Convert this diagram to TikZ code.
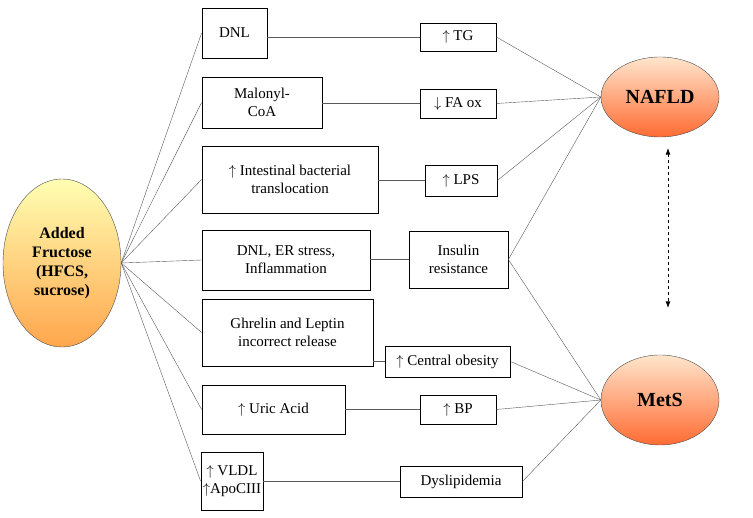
\documentclass[tikz,border=0pt]{standalone}
\usepackage{fontspec}
\setmainfont{Liberation Serif}
\usetikzlibrary{positioning,arrows.meta,shapes.geometric}
\tikzset{
  box/.style={draw, thick, align=center, inner sep=2pt, font=\fontsize{15}{18}\selectfont},
  link/.style={draw=gray!70!black, thin},
  blob/.style={draw=gray!60!black, ellipse, font=\bfseries\fontsize{20}{22}\selectfont},
}
\begin{document}
\begin{tikzpicture}[x=1pt,y=-1pt]
  \useasboundingbox (0,0) rectangle (753,518);
  % Fructosa y enfermedades
  \node[blob, minimum width=118, minimum height=168, align=center, top color=yellow!30, bottom color=orange!70, font=\bfseries\fontsize{16}{19}\selectfont] (fru) at (62,263) {Added\\Fructose\\(HFCS,\\sucrose)};
  \node[blob, minimum width=118, minimum height=80, top color=orange!20!white, bottom color=red!45!orange!80] (nafld) at (660,97) {NAFLD};
  \node[blob, minimum width=118, minimum height=90, top color=orange!20!white, bottom color=red!45!orange!80] (mets) at (660,400) {MetS};

  % Primera columna
  \node[box, minimum width=65, minimum height=50] (dnl) at (234.5,33) {DNL};
  \node[box, minimum width=120, minimum height=51] (mal) at (262,102.5) {Malonyl-\\CoA};
  \node[box, minimum width=176, minimum height=67] (int) at (290,179.5) {$\uparrow$ Intestinal bacterial\\translocation};
  \node[box, minimum width=168, minimum height=60] (er) at (286,260) {DNL, ER stress,\\Inflammation};
  \node[box, minimum width=171, minimum height=67] (ghr) at (287.5,332.5) {Ghrelin and Leptin\\incorrect release};
  \node[box, minimum width=143, minimum height=49] (uric) at (273.5,409.5) {$\uparrow$ Uric Acid};
  \node[box, minimum width=60, minimum height=58] (vldl) at (232,481) {$\uparrow$ VLDL\\$\uparrow$ApoCIII};

  % Segunda columna
  \node[box, minimum width=76, minimum height=28] (tg) at (458,37) {$\uparrow$ TG};
  \node[box, minimum width=76, minimum height=29] (fa) at (458,103.5) {$\downarrow$ FA ox};
  \node[box, minimum width=72, minimum height=31] (lps) at (461,180.5) {$\uparrow$ LPS};
  \node[box, minimum width=99, minimum height=57] (ir) at (458.5,259.5) {Insulin\\resistance};
  \node[box, minimum width=125, minimum height=31] (ob) at (447.5,361.5) {$\uparrow$ Central obesity};
  \node[box, minimum width=76, minimum height=29] (bp) at (458,409.5) {$\uparrow$ BP};
  \node[box, minimum width=122, minimum height=31] (dys) at (461,481.5) {Dyslipidemia};

  % Conexiones
  \foreach \b in {dnl,mal,int,er,ghr,uric,vldl}
    \draw[link] (fru.east) -- (\b.west);
  \foreach \a/\b in {dnl/tg,mal/fa,int/lps,er/ir,ghr/ob,uric/bp,vldl/dys}
    \draw[link] (\b.west -| \a.east) -- (\b.west);
  \foreach \b in {tg,fa,lps,ir}
    \draw[link] (\b.east) -- (nafld.west);
  \foreach \b in {ir,ob,bp,dys}
    \draw[link] (\b.east) -- (mets.west);
  \coordinate (up) at (668,148);
  \coordinate (dn) at (668,308);
  \draw[thick, dashed, {Latex}-{Latex}] (up) -- (dn);
\end{tikzpicture}
\end{document}
